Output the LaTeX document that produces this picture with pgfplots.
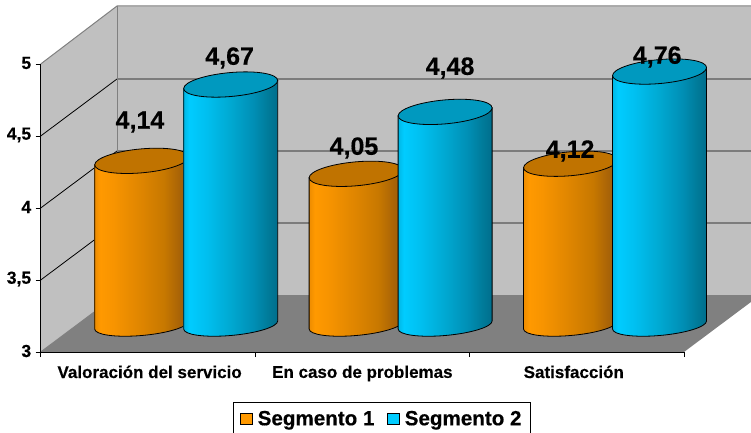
\documentclass[border=0pt]{standalone}
\usepackage{pgfplots}
\pgfplotsset{compat=1.18}
\usepackage{pgfplotstable}
\usepackage{fontspec}
\setmainfont[BoldFeatures={FakeBold=0.4}]{Liberation Sans}

\definecolor{wall}{HTML}{C0C0C0}
\definecolor{suelo}{HTML}{808080}
\definecolor{seg1}{HTML}{FF9900}
\definecolor{seg2}{HTML}{00CCFF}
\definecolor{tapa1}{HTML}{C07300}
\definecolor{tapa2}{HTML}{0099BF}

% tikz maps the 25bp..75bp part of a shading onto the path
\pgfdeclarehorizontalshading{cyl1}{100bp}{
  color(0bp)=(seg1);
  rgb(25bp)=(0.93,0.55,0);
  color(28bp)=(seg1);
  rgb(35bp)=(0.97,0.58,0);
  rgb(50bp)=(0.87,0.52,0);
  rgb(62bp)=(0.78,0.47,0);
  rgb(70bp)=(0.66,0.39,0.03);
  rgb(75bp)=(0.60,0.37,0.05);
  rgb(100bp)=(0.60,0.37,0.05)}
\pgfdeclarehorizontalshading{cyl2}{100bp}{
  color(0bp)=(seg2);
  rgb(25bp)=(0,0.72,0.90);
  color(28bp)=(seg2);
  rgb(37bp)=(0,0.75,0.94);
  rgb(50bp)=(0,0.66,0.82);
  rgb(62bp)=(0,0.56,0.71);
  rgb(70bp)=(0,0.48,0.60);
  rgb(75bp)=(0,0.43,0.55);
  rgb(100bp)=(0,0.43,0.55)}

% whole cylinder as one mark, placed at the top point; base floats 27pt over the axis floor
\newcommand\cylmark[3]{\pgfdeclareplotmark{#1}{%
  \pgfmathsetmacro\h{(\val-3)*144}%
  \pgfscope
  \pgftransformcm{1}{0.085}{0}{1}{\pgfqpoint{0pt}{27pt}}%
  \path[draw=black,line width=0.8pt,shade,shading=#2] (-47pt,0pt) -- (-47pt,-\h pt)
    arc[start angle=180,end angle=360,x radius=47pt,y radius=10.5pt] -- (47pt,0pt) -- cycle;
  \path[draw=black,line width=0.8pt,fill=#3] (0pt,0pt) ellipse[x radius=47pt,y radius=12pt];
  \endpgfscope}}
\cylmark{cylA}{cyl1}{tapa1}
\cylmark{cylB}{cyl2}{tapa2}

\pgfplotstableread{
g s1 s2
0 4.14 4.67
1 4.05 4.48
2 4.12 4.76
}\datos

\begin{document}
\begin{tikzpicture}[x=1pt,y=1pt,lab/.style={font=\fontsize{25}{25}\selectfont\bfseries,inner sep=0pt}]
\useasboundingbox (-40.7,-80) rectangle (710.3,352);
\clip (-40.7,-80) rectangle (710.3,352);

% walls and floor
\fill[wall] (76.3,57) rectangle (720,346);
\fill[wall] (0,0) -- (76.3,57) -- (76.3,346) -- (0,288) -- cycle;
\fill[suelo] (0,0) -- (643.3,0) -- (719.6,57) -- (76.3,57) -- cycle;
\foreach \y in {72,144,216}{
  \draw[black,line width=0.8pt] (0,\y) -- (76.3,\y+57) -- (720,\y+57);
}
\draw[suelo,line width=1pt] (0,288) -- (76.3,346) -- (720,346);
\draw[suelo,line width=1pt] (76.3,346) -- (76.3,57) -- (720,57);
\draw[suelo,line width=1pt] (0,0) -- (76.3,57);

\begin{axis}[
    at={(0pt,0pt)},
    anchor=origin,
    scale only axis,
    width=643.3pt,
    height=288pt,
    xmin=0, xmax=3,
    ymin=3, ymax=5,
    clip=false,
    axis x line*=bottom,
    axis y line*=left,
    axis line style={black,line width=1pt},
    tick align=outside,
    major tick length=5pt,
    tick style={black,line width=0.8pt},
    ytick={3,3.5,4,4.5,5},
    yticklabels={3,{3,5},4,{4,5},5},
    yticklabel style={font=\fontsize{17.5}{18}\selectfont\bfseries,xshift=-1pt,yshift=1pt},
    xtick={0,1,2,3},
    xticklabels={},
    extra x ticks={0.508,1.5,2.486},
    extra x tick labels={Valoración del servicio,En caso de problemas,Satisfacción},
    extra x tick style={
      tick style={draw=none},
      ticklabel style={font=\fontsize{17}{18}\selectfont\bfseries,yshift=-5pt}},
    legend columns=2,
    legend style={
      at={(192.3pt,-49.5pt)},
      anchor=north west,
      draw=black,
      line width=0.8pt,
      font=\fontsize{20.6}{22}\selectfont\bfseries,
      inner xsep=7pt,
      inner ysep=7pt,
      nodes={text depth=10pt},
      /tikz/every odd column/.append style={column sep=3pt},
      /tikz/every even column/.append style={column sep=11pt}},
]
\addplot[scatter,only marks,mark=cylA,
    visualization depends on={\thisrow{s1} \as \val},
    legend image code/.code={\draw[black,fill=seg1,line width=0.8pt] (0pt,-1.5pt) rectangle (11.5pt,10pt);}]
    table[x expr=\thisrow{g}+0.471,y=s1] {\datos};
\addlegendentry{Segmento 1}
\addplot[scatter,only marks,mark=cylB,
    visualization depends on={\thisrow{s2} \as \val},
    legend image code/.code={\draw[black,fill=seg2,line width=0.8pt] (0pt,-1.5pt) rectangle (11.5pt,10pt);}]
    table[x expr=\thisrow{g}+0.886,y=s2] {\datos};
\addlegendentry{Segmento 2}

\coordinate (l1) at (axis cs:0.463,4.597);
\coordinate (l2) at (axis cs:0.881,5.042);
\coordinate (l3) at (axis cs:1.461,4.417);
\coordinate (l4) at (axis cs:1.909,4.972);
\coordinate (l5) at (axis cs:2.469,4.396);
\coordinate (l6) at (axis cs:2.875,5.049);
\end{axis}
% value labels go last, the cylinder marks would cover them inside the axis
\node[lab] at (l1) {4,14};
\node[lab] at (l2) {4,67};
\node[lab] at (l3) {4,05};
\node[lab] at (l4) {4,48};
\node[lab] at (l5) {4,12};
\node[lab] at (l6) {4,76};
\end{tikzpicture}
\end{document}
